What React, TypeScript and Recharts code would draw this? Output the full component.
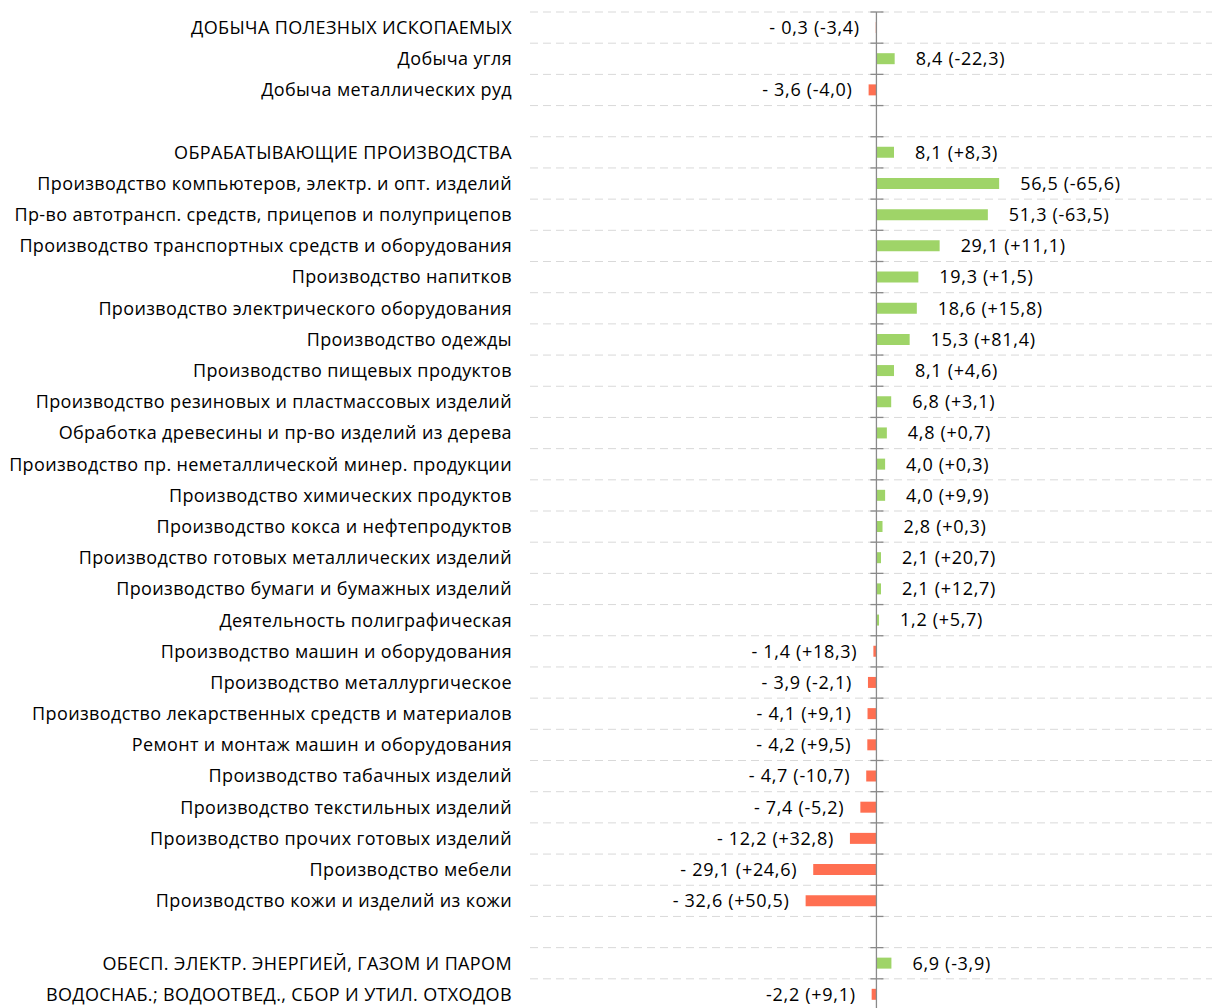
import { BarChart, Bar, XAxis, YAxis, CartesianGrid, ReferenceLine, LabelList, Cell } from 'recharts';

const categories = [
  'ДОБЫЧА ПОЛЕЗНЫХ ИСКОПАЕМЫХ',
  'Добыча угля',
  'Добыча металлических руд',
  ' ',
  'ОБРАБАТЫВАЮЩИЕ ПРОИЗВОДСТВА',
  'Производство компьютеров, электр. и опт. изделий',
  'Пр-во автотрансп. средств, прицепов и полуприцепов',
  'Производство транспортных средств и оборудования',
  'Производство напитков',
  'Производство электрического оборудования',
  'Производство одежды',
  'Производство пищевых продуктов',
  'Производство резиновых и пластмассовых изделий',
  'Обработка древесины и пр-во изделий из дерева',
  'Производство пр. неметаллической минер. продукции',
  'Производство химических продуктов',
  'Производство кокса и нефтепродуктов',
  'Производство готовых металлических изделий',
  'Производство бумаги и бумажных изделий',
  'Деятельность полиграфическая',
  'Производство машин и оборудования',
  'Производство металлургическое',
  'Производство лекарственных средств и материалов',
  'Ремонт и монтаж машин и оборудования',
  'Производство табачных изделий',
  'Производство текстильных изделий',
  'Производство прочих готовых изделий',
  'Производство мебели',
  'Производство кожи и изделий из кожи',
  '  ',
  'ОБЕСП. ЭЛЕКТР. ЭНЕРГИЕЙ, ГАЗОМ И ПАРОМ',
  'ВОДОСНАБ.; ВОДООТВЕД., СБОР И УТИЛ. ОТХОДОВ',
];

const values: (number | null)[] = [
  -0.3, 8.4, -3.6, null,
  8.1, 56.5, 51.3, 29.1, 19.3, 18.6, 15.3, 8.1, 6.8, 4.8, 4.0, 4.0, 2.8, 2.1, 2.1, 1.2,
  -1.4, -3.9, -4.1, -4.2, -4.7, -7.4, -12.2, -29.1, -32.6, null,
  6.9, -2.2,
];

const valueLabels = [
  '- 0,3 (-3,4)', '8,4 (-22,3)', '- 3,6 (-4,0)', '',
  '8,1 (+8,3)', '56,5 (-65,6)', '51,3 (-63,5)', '29,1 (+11,1)', '19,3 (+1,5)', '18,6 (+15,8)',
  '15,3 (+81,4)', '8,1 (+4,6)', '6,8 (+3,1)', '4,8 (+0,7)', '4,0 (+0,3)', '4,0 (+9,9)',
  '2,8 (+0,3)', '2,1 (+20,7)', '2,1 (+12,7)', '1,2 (+5,7)',
  '- 1,4 (+18,3)', '- 3,9 (-2,1)', '- 4,1 (+9,1)', '- 4,2 (+9,5)', '- 4,7 (-10,7)',
  '- 7,4 (-5,2)', '- 12,2 (+32,8)', '- 29,1 (+24,6)', '- 32,6 (+50,5)', '',
  '6,9 (-3,9)', '-2,2 (+9,1)',
];

const data = categories.map((name, i) => ({ name, value: values[i], label: valueLabels[i] }));

const FONT = '"Open Sans", sans-serif';
const FONT_SIZE = 18;
const ROWS = categories.length;

// label text comes in as `value`; negative labels start with a minus
const renderValueLabel = (props: any) => {
  const { x, y, width, height, value } = props;
  const text = String(value ?? '');
  if (!text) return null;
  const left = Math.min(x, x + width);
  const right = Math.max(x, x + width);
  const pos = !text.startsWith('-');
  return (
    <text
      x={pos ? right + 21 : left - 16}
      y={y + height / 2}
      dy="0.355em"
      textAnchor={pos ? 'start' : 'end'}
      fill="#000"
      fontSize={FONT_SIZE}
      fontFamily={FONT}
      letterSpacing={0.7}
    >
      {text}
    </text>
  );
};

const renderZeroAxis = (props: any) => {
  const { x1, y1, y2 } = props;
  const step = (y2 - y1) / ROWS;
  const ticks = [];
  for (let i = 0; i <= ROWS; i++) {
    const ty = y1 + i * step;
    ticks.push(<line key={i} x1={x1 - 6} x2={x1 + 7} y1={ty} y2={ty} stroke="#8a8a8a" strokeWidth={1.3} />);
  }
  return (
    <g>
      <line x1={x1} x2={x1} y1={y1} y2={y2} stroke="#8a8a8a" strokeWidth={1.3} />
      {ticks}
    </g>
  );
};

export default function App() {
  return (
    <div style={{ position: 'fixed', left: 0, top: 0, width: 1212, height: 1008, overflow: 'hidden', background: '#fff' }}>
      <BarChart
        width={1212}
        height={1010}
        data={data}
        layout="vertical"
        margin={{ top: 12, right: 0, bottom: 0, left: 0 }}
      >
        <CartesianGrid
          vertical={false}
          stroke="#d9d9d9"
          strokeDasharray="8 5"
          horizontalCoordinatesGenerator={({ offset }: any) =>
            Array.from({ length: ROWS + 1 }, (_, i) => offset.top + (i * offset.height) / ROWS)
          }
        />
        <XAxis type="number" domain={[-159.5, 154.5]} hide />
        <YAxis
          type="category"
          dataKey="name"
          width={530}
          interval={0}
          axisLine={false}
          tickLine={false}
          tickSize={0}
          tickMargin={18}
          tick={{ fill: '#000', fontSize: FONT_SIZE, fontFamily: FONT, letterSpacing: 0.37 }}
        />
        <ReferenceLine x={0} shape={renderZeroAxis} />
        <Bar dataKey="value" barSize={11} isAnimationActive={false}>
          {data.map((d, i) => (
            <Cell key={`cell-${i}`} fill={(d.value ?? 0) >= 0 ? '#9fd468' : '#ff6f51'} />
          ))}
          <LabelList dataKey="label" content={renderValueLabel} />
        </Bar>
      </BarChart>
    </div>
  );
}
